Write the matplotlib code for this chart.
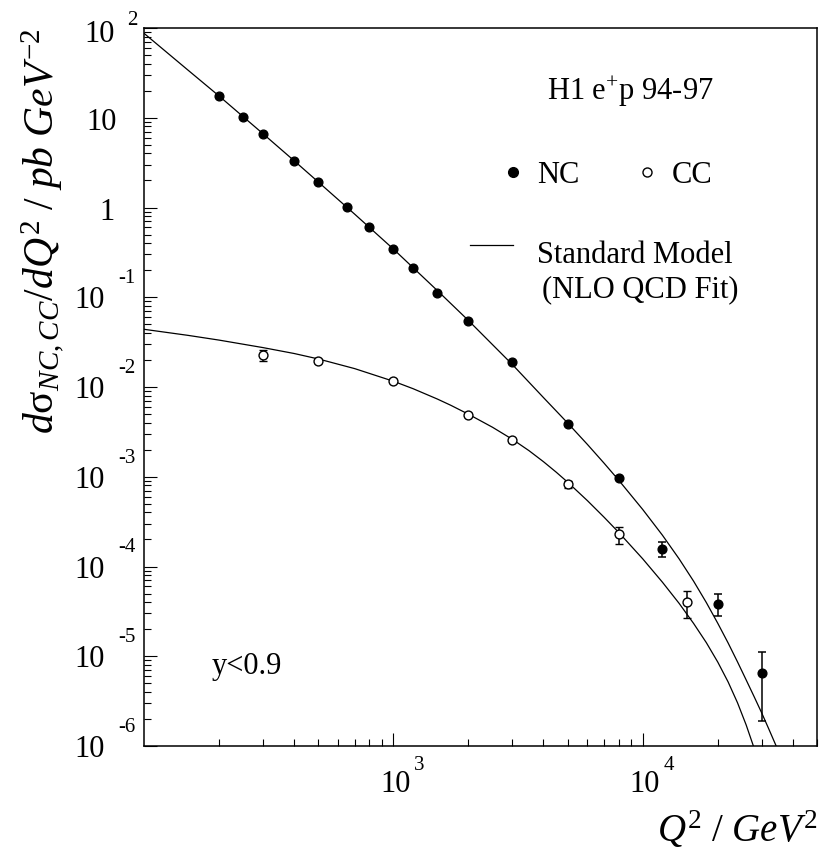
import numpy as np
import matplotlib
matplotlib.use("Agg")
import matplotlib.pyplot as plt
from matplotlib.ticker import LogLocator, NullFormatter

plt.rcParams['font.family'] = 'Liberation Serif'
plt.rcParams['mathtext.fontset'] = 'custom'
plt.rcParams['mathtext.rm'] = 'Liberation Serif'
plt.rcParams['mathtext.it'] = 'Liberation Serif:italic'
plt.rcParams['mathtext.bf'] = 'Liberation Serif:bold'

# --- H1 e+p 94-97 data
nc_q2 = [200, 250, 300, 400, 500, 650, 800, 1000, 1200, 1500, 2000, 3000,
         5000, 8000, 12000, 20000, 30000]
nc_xs = [17.5, 10.3, 6.64, 3.3, 1.92, 1.02, 0.61, 0.348, 0.21, 0.111, 0.0544,
         0.0188, 0.00387, 9.76e-4, 1.58e-4, 3.85e-5, 6.5e-6]
nc_err = [0.35, 0.2, 0.13, 0.07, 0.04, 0.02, 0.013, 0.008, 0.005, 0.003,
          0.0015, 0.0006, 0.00015, 5e-5, 3e-5, 1.06e-5, 4.6e-6]

cc_q2 = [300, 500, 1000, 2000, 3000, 5000, 8000, 15000]
cc_xs = [0.0226, 0.0193, 0.01175, 0.0049, 0.00255, 8.24e-4, 2.29e-4, 4.02e-5]
cc_err = [0.003, 0.001, 0.0005, 0.0002, 1e-4, 8e-5, 5e-5, 1.34e-5]

# Standard Model (NLO QCD fit) curves
nc_sm_q2 = [100, 150, 200, 300, 400, 500, 700, 1000, 1500, 2000, 3000, 4000,
            5000, 6000, 7000, 8000, 10000, 12000, 14000, 16000, 18000, 20000,
            22000, 24000, 26000, 28000, 30000, 32000, 34450]
nc_sm = [87.3, 34.0, 17.47, 6.64, 3.32, 1.924, 0.842, 0.3447, 0.1189, 0.0551,
         0.01781, 0.00762, 0.003971, 0.002293, 0.001416, 9.2e-4, 4.32e-4,
         2.23e-4, 1.215e-4, 6.86e-5, 3.96e-5, 2.33e-5, 1.408e-5, 8.65e-6,
         5.44e-6, 3.53e-6, 2.34e-6, 1.559e-6, 9.72e-7]

cc_sm_q2 = [100, 150, 200, 300, 400, 500, 700, 1000, 1200, 1500, 1700, 2000,
            2500, 3000, 3500, 4000, 4500, 5000, 6000, 7000, 8000, 10000, 12000,
            14000, 16000, 18000, 20000, 22000, 24000, 26000, 27800]
cc_sm = [0.04395, 0.03763, 0.03331, 0.02748, 0.02362, 0.02054, 0.01602,
         0.0116, 0.009574, 0.007351, 0.006253, 0.004977, 0.003556, 0.002614,
         0.001952, 0.001471, 0.001124, 8.70e-4, 5.42e-4, 3.54e-4, 2.41e-4,
         1.218e-4, 6.68e-5, 3.88e-5, 2.32e-5, 1.416e-5, 8.61e-6, 5.18e-6,
         3.03e-6, 1.714e-6, 9.97e-7]

y_exps = list(range(-6, 3))
x_exps = [3, 4]


def pt(px):
    # pixels -> points at dpi 100
    return px * 0.72


def main():
    fig = plt.figure(figsize=(8.19, 8.56), dpi=100)
    ax = fig.add_axes([144 / 819, 110 / 856, 673 / 819, 718 / 856])

    ax.plot(nc_sm_q2, nc_sm, color='black', lw=0.9)
    ax.plot(cc_sm_q2, cc_sm, color='black', lw=0.9)

    ax.errorbar(nc_q2, nc_xs, yerr=nc_err, fmt='o', color='black', ms=6.3,
                elinewidth=1.1, capsize=3.2, capthick=1.1, zorder=3)
    ax.errorbar(cc_q2, cc_xs, yerr=cc_err, fmt='o', color='black', mfc='white',
                mec='black', mew=1.0, ms=6.4, elinewidth=1.1, capsize=3.2,
                capthick=1.1, zorder=3)

    ax.set_xscale('log')
    ax.set_yscale('log')
    ax.set_xlim(100, 50000)
    ax.set_ylim(1e-6, 1e2)

    ax.set_yticks([10.0 ** e for e in y_exps])
    ax.yaxis.set_minor_locator(LogLocator(base=10, subs=np.arange(2, 10), numticks=30))
    ax.set_xticks([10.0 ** e for e in x_exps])
    ax.xaxis.set_minor_locator(LogLocator(base=10, subs=np.arange(2, 10), numticks=30))
    for a in (ax.xaxis, ax.yaxis):
        a.set_major_formatter(NullFormatter())
        a.set_minor_formatter(NullFormatter())
    ax.tick_params(which='major', direction='in', length=9.4, width=0.8,
                   top=False, right=False)
    ax.tick_params(which='minor', direction='in', length=5, width=0.8,
                   top=False, right=False)
    for s in ax.spines.values():
        s.set_linewidth(1.1)

    # ROOT-style tick labels: "10" with the exponent set above
    for e in y_exps:
        v = 10.0 ** e
        yx = ('axes fraction', 'data')
        if e == 0:
            ax.annotate('1', xy=(0, v), xycoords=yx, xytext=(pt(-29), pt(-12)),
                        textcoords='offset points', ha='right', va='baseline', fontsize=22)
        elif e == 1:
            ax.annotate('10', xy=(0, v), xycoords=yx, xytext=(pt(-27), pt(-12)),
                        textcoords='offset points', ha='right', va='baseline', fontsize=22)
        elif e == 2:
            ax.annotate('10', xy=(0, v), xycoords=yx, xytext=(pt(-29), pt(-14)),
                        textcoords='offset points', ha='right', va='baseline', fontsize=22)
            ax.annotate('2', xy=(0, v), xycoords=yx, xytext=(pt(-17), pt(3)),
                        textcoords='offset points', ha='left', va='baseline', fontsize=15)
        else:
            ax.annotate('10', xy=(0, v), xycoords=yx, xytext=(pt(-39), pt(-11)),
                        textcoords='offset points', ha='right', va='baseline', fontsize=22)
            ax.annotate('%d' % e, xy=(0, v), xycoords=yx, xytext=(pt(-26), pt(14)),
                        textcoords='offset points', ha='left', va='baseline', fontsize=15)

    for e in x_exps:
        v = 10.0 ** e
        xy = ('data', 'axes fraction')
        ax.annotate('10', xy=(v, 0), xycoords=xy, xytext=(pt(17), pt(-46)),
                    textcoords='offset points', ha='right', va='baseline', fontsize=22)
        ax.annotate('%d' % e, xy=(v, 0), xycoords=xy, xytext=(pt(21), pt(-24)),
                    textcoords='offset points', ha='left', va='baseline', fontsize=15)

    # axis titles
    fig.text(817 / 819, 1 - 842 / 856, r'$Q^{2}\ /\ GeV^{2}$', ha='right',
             va='baseline', fontsize=28)
    fig.text(54 / 819, 1 - 28 / 856,
             r'$d\mathrm{\sigma}_{NC,CC}/dQ^{2}\ /\ pb\ GeV^{-2}$',
             rotation=90, rotation_mode='anchor', ha='right', va='baseline',
             fontsize=30)

    # legend block
    tr = ax.transAxes
    ax.text(0.5988, 0.8997, r'H1 e$^{+}$p 94-97', transform=tr, ha='left',
            va='baseline', fontsize=22)
    ax.plot([0.5487], [0.7999], 'o', color='black', ms=7, transform=tr, clip_on=False)
    ax.text(0.584, 0.7841, 'NC', transform=tr, ha='left', va='baseline', fontsize=22)
    ax.plot([0.7470], [0.7999], 'o', color='black', mfc='white', mew=1.0, ms=6.5,
            transform=tr, clip_on=False)
    ax.text(0.7845, 0.7841, 'CC', transform=tr, ha='left', va='baseline', fontsize=22)
    ax.plot([0.4844, 0.5483], [0.6978, 0.6978], color='black', lw=0.9, transform=tr)
    ax.text(0.584, 0.6727, 'Standard Model', transform=tr, ha='left',
            va='baseline', fontsize=22)
    ax.text(0.5914, 0.6253, '(NLO QCD Fit)', transform=tr, ha='left',
            va='baseline', fontsize=22)
    ax.text(0.101, 0.1003, 'y<0.9', transform=tr, ha='left', va='baseline', fontsize=22)

    fig.savefig('out.png', dpi=100)


if __name__ == "__main__":
    main()
